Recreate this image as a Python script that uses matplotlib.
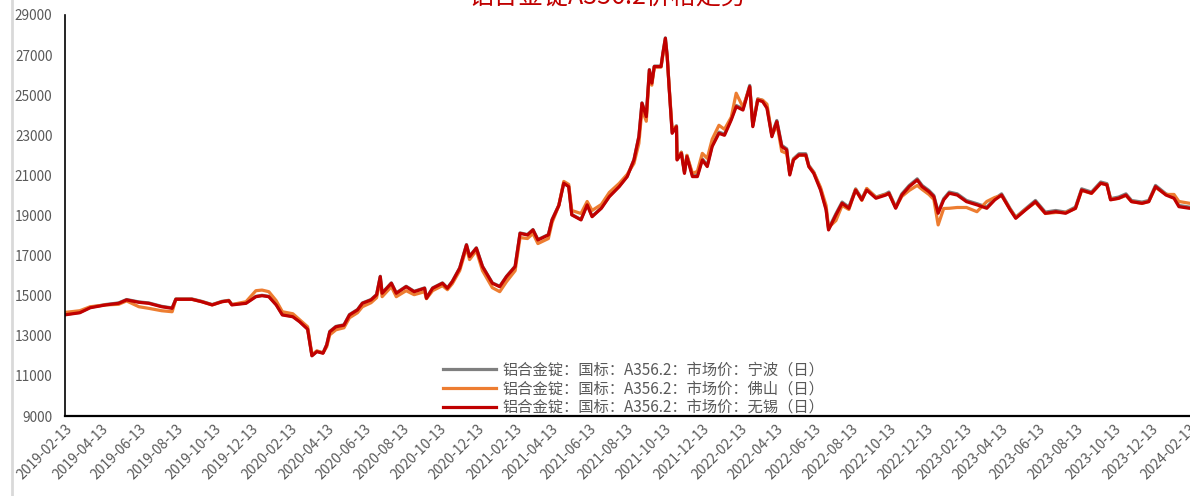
import pandas as pd
import matplotlib
matplotlib.use("Agg")
import matplotlib.pyplot as plt
import matplotlib.dates as mdates
from matplotlib.lines import Line2D

plt.rcParams['font.family'] = ['Noto Sans CJK SC', 'DejaVu Sans']

# Data (yuan/ton)
dates = [
    "2019-02-14", "2019-03-09", "2019-03-26", "2019-04-20", "2019-05-11", "2019-05-24",
    "2019-06-13", "2019-06-29", "2019-07-20", "2019-08-06", "2019-08-12", "2019-09-07",
    "2019-09-23", "2019-10-10", "2019-10-26", "2019-11-06", "2019-11-11", "2019-12-04",
    "2019-12-20", "2019-12-30", "2020-01-10", "2020-01-22", "2020-02-01", "2020-02-18",
    "2020-02-29", "2020-03-13", "2020-03-20", "2020-03-28", "2020-04-07", "2020-04-13",
    "2020-04-18", "2020-04-28", "2020-05-11", "2020-05-20", "2020-06-02", "2020-06-10",
    "2020-06-24", "2020-07-03", "2020-07-09", "2020-07-12", "2020-07-27", "2020-08-04",
    "2020-08-20", "2020-09-02", "2020-09-19", "2020-09-22", "2020-10-02", "2020-10-18",
    "2020-10-26", "2020-11-03", "2020-11-15", "2020-11-26", "2020-12-01", "2020-12-12",
    "2020-12-22", "2021-01-07", "2021-01-19", "2021-01-30", "2021-02-13", "2021-02-21",
    "2021-03-05", "2021-03-14", "2021-03-22", "2021-04-08", "2021-04-14", "2021-04-25",
    "2021-05-03", "2021-05-11", "2021-05-16", "2021-05-31", "2021-06-10", "2021-06-18",
    "2021-07-03", "2021-07-16", "2021-08-01", "2021-08-14", "2021-08-25", "2021-09-02",
    "2021-09-07", "2021-09-14", "2021-09-19", "2021-09-23", "2021-09-27", "2021-10-08",
    "2021-10-11", "2021-10-15", "2021-10-18", "2021-10-21", "2021-10-26", "2021-11-02",
    "2021-11-03", "2021-11-10", "2021-11-15", "2021-11-19", "2021-11-28", "2021-12-06",
    "2021-12-14", "2021-12-22", "2021-12-30", "2022-01-10", "2022-01-19", "2022-01-30",
    "2022-02-07", "2022-02-18", "2022-03-01", "2022-03-06", "2022-03-14", "2022-03-22",
    "2022-03-29", "2022-04-06", "2022-04-11", "2022-04-14", "2022-04-22", "2022-04-30",
    "2022-05-05", "2022-05-11", "2022-05-20", "2022-05-31", "2022-06-05", "2022-06-13",
    "2022-06-24", "2022-07-03", "2022-07-07", "2022-07-19", "2022-07-29", "2022-08-09",
    "2022-08-20", "2022-08-30", "2022-09-07", "2022-09-22", "2022-10-08", "2022-10-13",
    "2022-10-24", "2022-11-03", "2022-11-15", "2022-11-28", "2022-12-06", "2022-12-17",
    "2022-12-25", "2023-01-01", "2023-01-10", "2023-01-19", "2023-02-01", "2023-02-16",
    "2023-03-05", "2023-03-21", "2023-04-03", "2023-04-14", "2023-04-28", "2023-05-07",
    "2023-05-23", "2023-06-08", "2023-06-24", "2023-07-11", "2023-07-27", "2023-08-12",
    "2023-08-22", "2023-09-07", "2023-09-22", "2023-10-02", "2023-10-08", "2023-10-21",
    "2023-11-02", "2023-11-11", "2023-11-28", "2023-12-09", "2023-12-20", "2024-01-06",
    "2024-01-19", "2024-01-27", "2024-02-13", "2024-02-20",
]

wuxi = [
    14050, 14150, 14400, 14540, 14620, 14790, 14670, 14620, 14450, 14370, 14820, 14820,
    14700, 14540, 14700, 14750, 14540, 14620, 14950, 15000, 14950, 14540, 14040, 13950,
    13700, 13330, 12000, 12210, 12130, 12540, 13200, 13450, 13530, 14040, 14290, 14620,
    14790, 15040, 15950, 15120, 15620, 15120, 15450, 15200, 15370, 14870, 15370, 15620,
    15370, 15700, 16370, 17530, 16950, 17370, 16450, 15620, 15450, 15950, 16450, 18110,
    18030, 18280, 17780, 18030, 18780, 19500, 20610, 20440, 19030, 18780, 19530, 18940,
    19360, 19940, 20440, 20940, 21770, 22930, 24600, 23930, 26260, 25600, 26430, 26430,
    27090, 27840, 26930, 25430, 23100, 23430, 21770, 22100, 21100, 21940, 20940, 20940,
    21770, 21440, 22440, 23100, 23000, 23770, 24430, 24260, 25430, 23430, 24760, 24680,
    24350, 22930, 23430, 23680, 22440, 22270, 21020, 21770, 22020, 22020, 21440, 21100,
    20270, 19280, 18280, 19030, 19610, 19360, 20270, 19780, 20270, 19860, 20020, 20110,
    19360, 20020, 20440, 20770, 20440, 20190, 19940, 19110, 19780, 20110, 20020, 19690,
    19530, 19360, 19780, 20020, 19280, 18860, 19280, 19690, 19110, 19190, 19110, 19360,
    20270, 20110, 20610, 20530, 19780, 19860, 20020, 19690, 19610, 19690, 20440, 20020,
    19860, 19440, 19360, 19360,
]

foshan = [
    14170, 14250, 14450, 14540, 14570, 14740, 14450, 14370, 14250, 14200, 14820, 14820,
    14700, 14540, 14700, 14750, 14560, 14700, 15250, 15280, 15200, 14750, 14200, 14100,
    13800, 13450, 12050, 12250, 12150, 12450, 13050, 13300, 13400, 13900, 14150, 14450,
    14650, 14900, 15800, 14950, 15450, 14950, 15250, 15050, 15200, 14850, 15250, 15500,
    15300, 15600, 16250, 17400, 16800, 17250, 16250, 15400, 15200, 15700, 16250, 17900,
    17850, 18100, 17600, 17850, 18650, 19500, 20700, 20550, 19250, 19100, 19700, 19250,
    19550, 20150, 20600, 21050, 21600, 22600, 24300, 23700, 26100, 25500, 26400, 26400,
    27000, 27700, 26900, 25500, 23300, 23450, 21800, 22150, 21200, 22000, 21100, 21200,
    22100, 21850, 22800, 23500, 23300, 23900, 25100, 24400, 25400, 23500, 24800, 24750,
    24550, 23000, 23300, 23600, 22200, 22100, 21100, 21800, 22000, 22000, 21450, 21150,
    20400, 19500, 18400, 18750, 19500, 19300, 20300, 19750, 20350, 19900, 20050, 20100,
    19400, 19950, 20250, 20500, 20300, 20050, 19800, 18530, 19350, 19360, 19400, 19400,
    19190, 19700, 19900, 20000, 19300, 18900, 19300, 19650, 19100, 19150, 19150, 19350,
    20250, 20100, 20600, 20550, 19800, 19850, 20000, 19700, 19600, 19700, 20400, 20050,
    20050, 19700, 19610, 19610,
]

ningbo = [
    14070, 14170, 14420, 14560, 14640, 14810, 14690, 14640, 14470, 14390, 14840, 14840,
    14720, 14560, 14720, 14770, 14560, 14640, 14970, 15020, 14970, 14560, 14060, 13970,
    13720, 13350, 12020, 12230, 12150, 12560, 13220, 13470, 13550, 14060, 14310, 14640,
    14810, 15060, 15970, 15140, 15640, 15140, 15470, 15220, 15390, 14890, 15390, 15640,
    15390, 15720, 16390, 17550, 16970, 17390, 16470, 15640, 15470, 15970, 16470, 18130,
    18050, 18300, 17800, 18050, 18800, 19520, 20630, 20460, 19050, 18800, 19550, 18960,
    19380, 19960, 20460, 20960, 21790, 22950, 24620, 23950, 26280, 25620, 26450, 26450,
    27110, 27860, 26950, 25450, 23150, 23480, 21830, 22160, 21160, 22000, 21000, 21000,
    21830, 21500, 22500, 23160, 23060, 23830, 24490, 24320, 25490, 23490, 24820, 24740,
    24410, 22990, 23490, 23740, 22500, 22330, 21080, 21830, 22080, 22080, 21500, 21160,
    20330, 19340, 18340, 19090, 19670, 19420, 20330, 19840, 20330, 19920, 20080, 20170,
    19420, 20080, 20500, 20830, 20500, 20250, 20000, 19170, 19840, 20170, 20080, 19750,
    19590, 19420, 19840, 20080, 19340, 18920, 19340, 19750, 19170, 19250, 19170, 19420,
    20330, 20170, 20670, 20590, 19840, 19920, 20080, 19750, 19670, 19750, 20500, 20080,
    19920, 19500, 19420, 19420,
]

series_names = [
    "铝合金锭：国标：A356.2：市场价：宁波（日）",
    "铝合金锭：国标：A356.2：市场价：佛山（日）",
    "铝合金锭：国标：A356.2：市场价：无锡（日）",
]
series_colors = ["#7F7F7F", "#ED7D31", "#C00000"]
title = "铝合金锭A356.2价格走势"

x = pd.to_datetime(dates)

fig = plt.figure(figsize=(11.9, 4.96), dpi=100)
ax = fig.add_axes([65 / 1190, 1 - 416 / 496, 1 - 65 / 1190, (416 - 15) / 496])

for vals, name, col in zip([ningbo, foshan, wuxi], series_names, series_colors):
    ax.plot(x, vals, color=col, linewidth=2.3, label=name)

ax.set_ylim(9000, 29000)
ax.set_yticks(range(9000, 29001, 2000))
ax.set_xlim(pd.Timestamp("2019-02-13"), pd.Timestamp("2024-02-14"))
ticks = pd.date_range("2019-02-13", periods=31, freq=pd.DateOffset(months=2))
ax.set_xticks(ticks)
ax.xaxis.set_major_formatter(mdates.DateFormatter("%Y-%m-%d"))
ax.tick_params(axis='y', length=0, pad=9, labelsize=9.8, labelcolor="#595959")
ax.tick_params(axis='x', length=0, pad=4, labelsize=10, labelcolor="#595959")
for lbl in ax.get_xticklabels():
    lbl.set_rotation(45)
    lbl.set_ha('right')
    lbl.set_va('top')
    lbl.set_rotation_mode('anchor')

for side in ['top', 'right']:
    ax.spines[side].set_visible(False)
ax.spines['left'].set_linewidth(1.2)
ax.spines['bottom'].set_linewidth(1.6)

leg = ax.legend(loc='lower left', bbox_to_anchor=(0.336, 0.0), frameon=False,
                fontsize=11, handlelength=3.5, handletextpad=0.4,
                labelspacing=0.12, borderpad=0.0, borderaxespad=0)
for t in leg.get_texts():
    t.set_color("#595959")

fig.text(0.51, 1 + 3 / 496, title, color="#C00000", fontsize=18,
         ha='center', va='center')

# grey border at the left edge of the screenshot
fig.add_artist(Line2D([12 / 1190, 12 / 1190], [0, 1], color="#D9D9D9",
                      linewidth=2.0, transform=fig.transFigure))

fig.savefig("out.png", dpi=100)
